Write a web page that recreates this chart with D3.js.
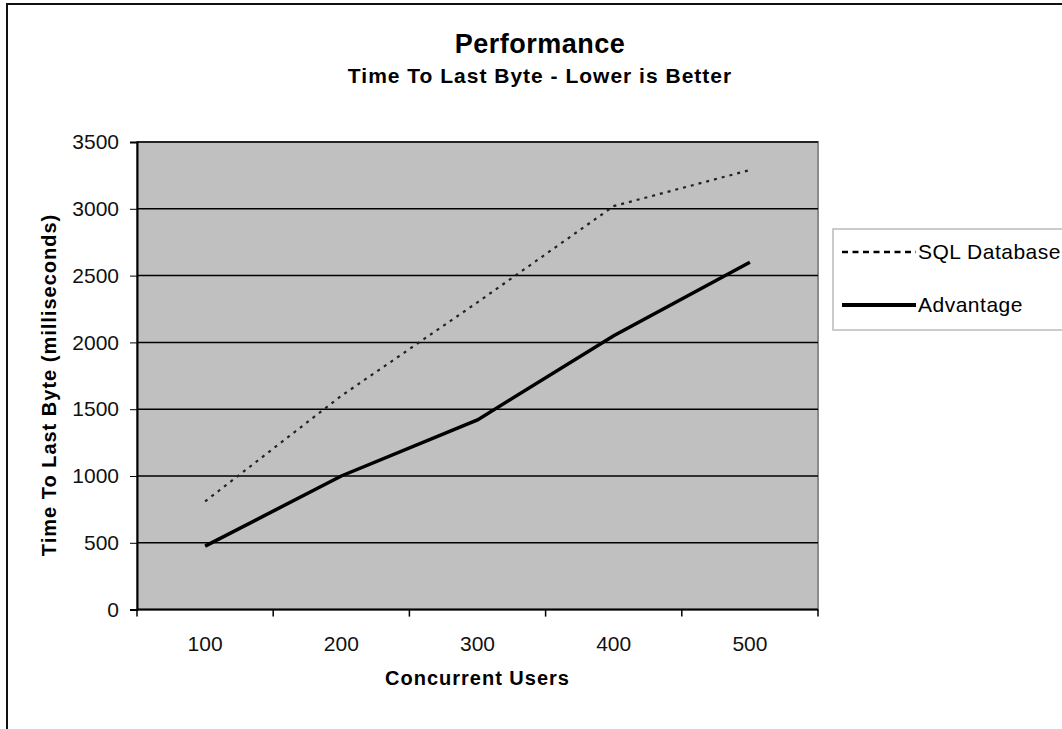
<!DOCTYPE html>
<html>
<head>
<meta charset="utf-8">
<script src="https://cdn.jsdelivr.net/npm/d3@7"></script>
<style>
    html, body { margin: 0; padding: 0; background: #fff; }
    svg { display: block; font-family: "Liberation Sans", Arial, sans-serif; }
</style>
</head>
<body>
<svg id="chart" width="1062" height="729"></svg>
<script>
const users = [100, 200, 300, 400, 500];
const sqlDatabase = [810, 1600, 2300, 3020, 3290];
const advantage = [475, 1000, 1420, 2050, 2600];
const yTicks = [0, 500, 1000, 1500, 2000, 2500, 3000, 3500];

const svg = d3.select('#chart');
const plot = { left: 137, right: 818, top: 142, bottom: 609.6 };

// Chart area border (right and bottom edges fall outside the picture)
svg.append('rect')
    .attr('x', 7).attr('y', 4)
    .attr('width', 1120).attr('height', 800)
    .style('fill', '#fff')
    .style('stroke', '#111')
    .style('stroke-width', 2);

// 1. Scales
const x = d3.scaleBand().domain(users).range([plot.left, plot.right]).padding(0);
const y = d3.scaleLinear().domain([0, 3500]).range([plot.bottom, plot.top]);
const cx = d => x(d) + x.bandwidth() / 2;

// 2. Plot area
svg.append('rect')
    .attr('x', plot.left).attr('y', plot.top)
    .attr('width', plot.right - plot.left).attr('height', plot.bottom - plot.top)
    .style('fill', '#c0c0c0')
    .style('stroke', '#8a8a8a')
    .style('stroke-width', 2);

svg.append('g')
    .selectAll('line')
    .data(yTicks.filter(d => d > 0))
    .enter()
    .append('line')
    .attr('x1', plot.left).attr('x2', plot.right)
    .attr('y1', d => y(d)).attr('y2', d => y(d))
    .style('stroke', '#000')
    .style('stroke-width', 1.5);

// 3. Axes
const yAxis = svg.append('g')
    .attr('transform', `translate(${plot.left},0)`)
    .call(d3.axisLeft(y).tickValues(yTicks).tickFormat(d3.format('d')).tickSize(7).tickPadding(11));
yAxis.select('.domain').attr('stroke-width', 2);

const xAxis = svg.append('g')
    .attr('transform', `translate(0,${plot.bottom})`)
    .call(d3.axisBottom(x).tickSize(0).tickPadding(26));
xAxis.select('.domain').attr('stroke-width', 2).attr('d', `M${plot.left},0H${plot.right}`);

xAxis.selectAll('.edge')
    .data(users.map(d => x(d)).concat([plot.right]))
    .enter()
    .append('line')
    .attr('class', 'edge')
    .attr('x1', d => d).attr('x2', d => d)
    .attr('y1', 0).attr('y2', 7)
    .style('stroke', '#000')
    .style('stroke-width', 1.5);

svg.selectAll('.tick text')
    .style('font-size', '21px')
    .style('fill', '#111')
    .style('font-family', '"Liberation Sans", Arial, sans-serif');

// 4. Lines
const line = d3.line().x((d, i) => cx(users[i])).y(d => y(d));

svg.append('path')
    .datum(sqlDatabase)
    .attr('d', line)
    .style('fill', 'none')
    .style('stroke', '#222')
    .style('stroke-width', 2.2)
    .style('stroke-dasharray', '3,5');

svg.append('path')
    .datum(advantage)
    .attr('d', line)
    .style('fill', 'none')
    .style('stroke', '#000')
    .style('stroke-width', 3.5);

// 5. Titles
svg.append('text')
    .attr('x', 540).attr('y', 53)
    .attr('text-anchor', 'middle')
    .style('font-size', '27px').style('font-weight', 'bold')
    .style('letter-spacing', '0.5px')
    .text('Performance');

svg.append('text')
    .attr('x', 540).attr('y', 83)
    .attr('text-anchor', 'middle')
    .style('font-size', '21px').style('font-weight', 'bold')
    .style('letter-spacing', '1px')
    .text('Time To Last Byte - Lower is Better');

svg.append('text')
    .attr('x', (plot.left + plot.right) / 2).attr('y', 685)
    .attr('text-anchor', 'middle')
    .style('font-size', '20px').style('font-weight', 'bold')
    .style('letter-spacing', '1px')
    .text('Concurrent Users');

svg.append('text')
    .attr('transform', 'translate(56,385) rotate(-90)')
    .attr('text-anchor', 'middle')
    .style('font-size', '20px').style('font-weight', 'bold')
    .style('letter-spacing', '1px')
    .text('Time To Last Byte (milliseconds)');

// 6. Legend
const legend = svg.append('g').attr('transform', 'translate(833,229)');
legend.append('rect')
    .attr('width', 260).attr('height', 101)
    .style('fill', '#fff')
    .style('stroke', '#bbb')
    .style('stroke-width', 1.5);

const entries = [
    { name: 'SQL Database', dash: '6,4.5', width: 2.5, y: 23 },
    { name: 'Advantage', dash: null, width: 4, y: 76 }
];

const item = legend.selectAll('.item')
    .data(entries)
    .enter()
    .append('g')
    .attr('transform', d => `translate(0,${d.y})`);

item.append('line')
    .attr('x1', 9).attr('x2', 83)
    .style('stroke', '#000')
    .style('stroke-width', d => d.width)
    .style('stroke-dasharray', d => d.dash);

item.append('text')
    .attr('x', 85).attr('dy', '0.35em')
    .style('font-size', '21px')
    .style('letter-spacing', '0.5px')
    .text(d => d.name);
</script>
</body>
</html>
